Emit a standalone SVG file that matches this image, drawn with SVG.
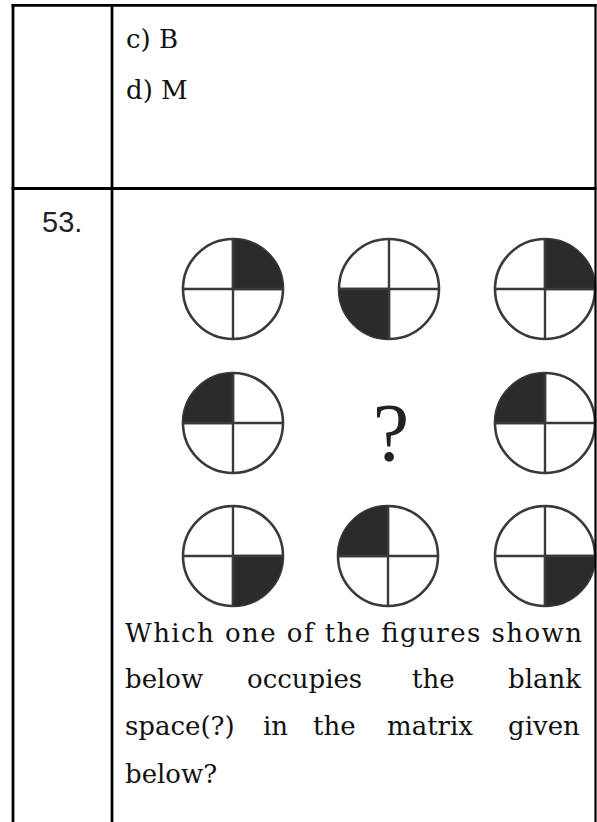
<svg xmlns="http://www.w3.org/2000/svg" width="597" height="822" viewBox="0 0 597 822">
<style>
.t{font-family:"DejaVu Serif","Liberation Serif",serif;font-size:26px;fill:#111}
.ring{fill:#fff;stroke:#3a3a3a;stroke-width:2.6}
.cross{stroke:#3a3a3a;stroke-width:2.4;fill:none}
.q{fill:#2b2b2b}
.rule{stroke:#000;stroke-width:2.8;fill:none}
</style>
<defs>
<g id="circ">
<circle class="ring" cx="0" cy="0" r="50"/>
<path class="cross" d="M-50 0H50M0 -50V50"/>
</g>
<path id="qTR" class="q" d="M0 0V-50A50 50 0 0 1 50 0Z"/>
<path id="qTL" class="q" d="M0 0H-50A50 50 0 0 1 0 -50Z"/>
<path id="qBR" class="q" d="M0 0H50A50 50 0 0 1 0 50Z"/>
<path id="qBL" class="q" d="M0 0V50A50 50 0 0 1 -50 0Z"/>
</defs>
<rect width="597" height="822" fill="#fff"/>

<g id="figure">
<g id="c11" transform="translate(233,289)"><use href="#circ"/><use href="#qTR"/><path class="cross" d="M0 -50V0H50"/></g>
<g id="c12" transform="translate(389,289)"><use href="#circ"/><use href="#qBL"/><path class="cross" d="M-50 0H0V50"/></g>
<g id="c13" transform="translate(545,289)"><use href="#circ"/><use href="#qTR"/><path class="cross" d="M0 -50V0H50"/></g>
<g id="c21" transform="translate(233,423)"><use href="#circ"/><use href="#qTL"/><path class="cross" d="M-50 0H0V-50"/></g>
<g id="c22"><text x="391" y="460" font-family="Liberation Serif, serif" font-size="82" text-anchor="middle" fill="#222">?</text></g>
<g id="c23" transform="translate(545,423)"><use href="#circ"/><use href="#qTL"/><path class="cross" d="M-50 0H0V-50"/></g>
<g id="c31" transform="translate(233,556)"><use href="#circ"/><use href="#qBR"/><path class="cross" d="M50 0H0V50"/></g>
<g id="c32" transform="translate(388,556)"><use href="#circ"/><use href="#qTL"/><path class="cross" d="M-50 0H0V-50"/></g>
<g id="c33" transform="translate(545,556)"><use href="#circ"/><use href="#qBR"/><path class="cross" d="M50 0H0V50"/></g>
</g>

<g id="table">
<path class="rule" d="M11.6 5.4H596.5"/>
<path class="rule" d="M13 4V822"/>
<path class="rule" d="M112 4V822"/>
<path class="rule" d="M11.6 188.5H596.5"/>
<path d="M595.5 4V822" stroke="#000" stroke-width="2.2"/>
</g>

<g id="row1">
<text class="t" x="126" y="48">c) B</text>
<text class="t" x="126" y="99">d) M</text>
</g>

<g id="row2">
<text x="42" y="232" font-family="Liberation Sans, Arial, sans-serif" font-size="29" fill="#222">53.</text>
<text class="t" x="125" y="642" textLength="457" lengthAdjust="spacing">Which one of the figures shown</text>
<text class="t" y="688"><tspan x="125">below</tspan><tspan x="247">occupies</tspan><tspan x="412">the</tspan><tspan x="508">blank</tspan></text>
<text class="t" y="735"><tspan x="125">space(?)</tspan><tspan x="263">in</tspan><tspan x="313">the</tspan><tspan x="387">matrix</tspan><tspan x="508">given</tspan></text>
<text class="t" x="125" y="783">below?</text>
</g>
</svg>
